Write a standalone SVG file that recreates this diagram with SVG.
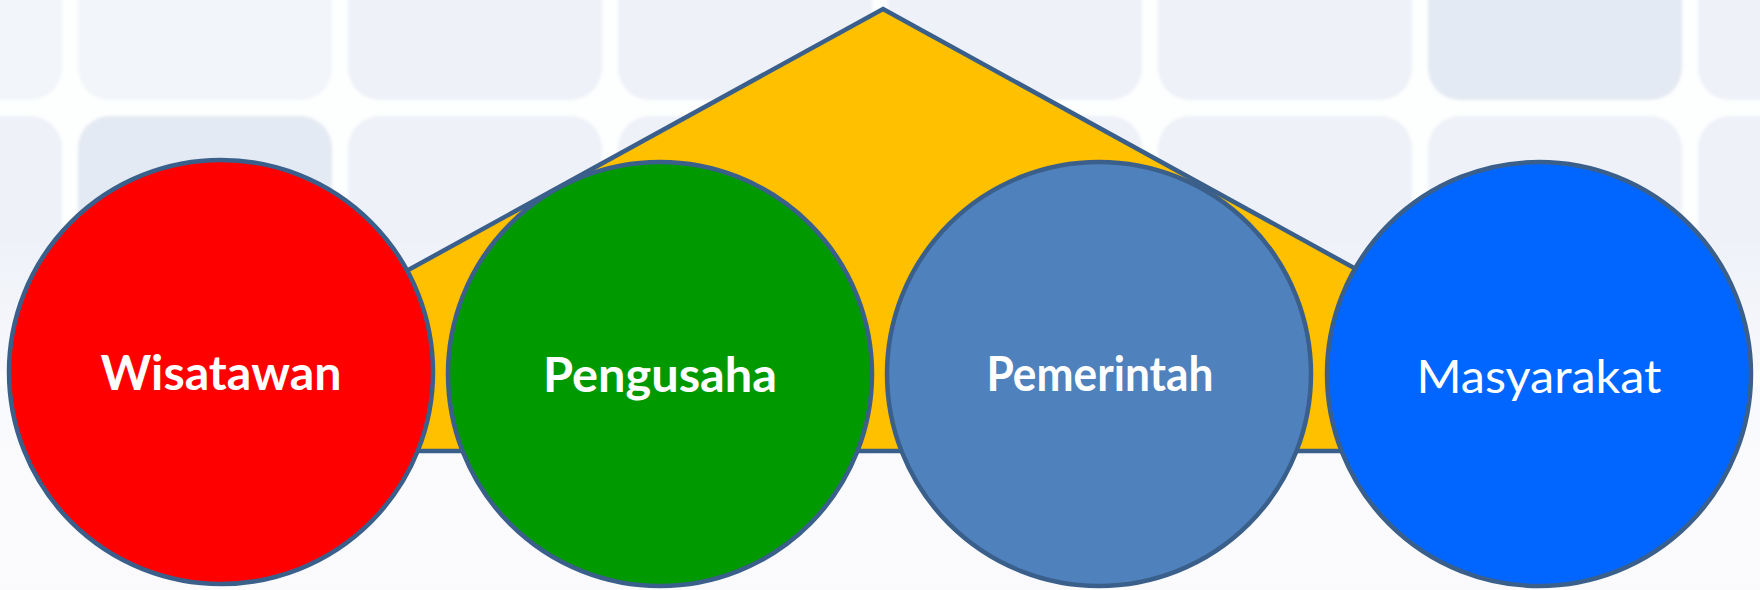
<svg xmlns="http://www.w3.org/2000/svg" width="1760" height="590" viewBox="0 0 1760 590">
  <defs>
    <style>
      .cell { fill: #EEF1F8; }
      .cell2 { fill: #E4EAF3; }
      .cell3 { fill: #F2F5F9; }
      .shape { stroke: #3A5F8B; stroke-width: 4.5; }
      .lbl { font-family: "Lato", "Open Sans", "Liberation Sans", sans-serif; font-size: 47px; fill: #FFFFFF; text-anchor: middle; }
      .bold { font-weight: bold; }
    </style>
    <filter id="soft" x="-5%" y="-5%" width="110%" height="110%">
      <feGaussianBlur stdDeviation="1.5"/>
    </filter>
    <linearGradient id="fade" x1="0" y1="0" x2="0" y2="1">
      <stop offset="0" stop-color="#FFFFFF" stop-opacity="0"/>
      <stop offset="0.4" stop-color="#FFFFFF" stop-opacity="0"/>
      <stop offset="0.68" stop-color="#FCFCFE" stop-opacity="0.75"/>
      <stop offset="0.85" stop-color="#FBFBFD" stop-opacity="1"/>
      <stop offset="1" stop-color="#FAFAFC" stop-opacity="1"/>
    </linearGradient>
  </defs>

  <g id="background">
    <rect x="0" y="0" width="1760" height="590" fill="#FDFEFE"/>
    <g filter="url(#soft)">
      <rect class="cell3" x="-192" y="-154" width="254" height="254" rx="32"/>
      <rect class="cell3" x="78" y="-154" width="254" height="254" rx="32"/>
      <rect class="cell" x="348" y="-154" width="254" height="254" rx="32"/>
      <rect class="cell" x="618" y="-154" width="254" height="254" rx="32"/>
      <rect class="cell" x="888" y="-154" width="254" height="254" rx="32"/>
      <rect class="cell" x="1158" y="-154" width="254" height="254" rx="32"/>
      <rect class="cell2" x="1428" y="-154" width="254" height="254" rx="32"/>
      <rect class="cell" x="1698" y="-154" width="254" height="254" rx="32"/>
      <rect class="cell" x="-192" y="116" width="254" height="254" rx="32"/>
      <rect class="cell2" x="78" y="116" width="254" height="254" rx="32"/>
      <rect class="cell" x="348" y="116" width="254" height="254" rx="32"/>
      <rect class="cell" x="618" y="116" width="254" height="254" rx="32"/>
      <rect class="cell" x="888" y="116" width="254" height="254" rx="32"/>
      <rect class="cell" x="1158" y="116" width="254" height="254" rx="32"/>
      <rect class="cell" x="1428" y="116" width="254" height="254" rx="32"/>
      <rect class="cell" x="1698" y="116" width="254" height="254" rx="32"/>
      <rect class="cell" x="-192" y="386" width="254" height="254" rx="32"/>
      <rect class="cell" x="78" y="386" width="254" height="254" rx="32"/>
      <rect class="cell" x="348" y="386" width="254" height="254" rx="32"/>
      <rect class="cell" x="618" y="386" width="254" height="254" rx="32"/>
      <rect class="cell" x="888" y="386" width="254" height="254" rx="32"/>
      <rect class="cell" x="1158" y="386" width="254" height="254" rx="32"/>
      <rect class="cell" x="1428" y="386" width="254" height="254" rx="32"/>
      <rect class="cell" x="1698" y="386" width="254" height="254" rx="32"/>
    </g>
    <rect x="0" y="0" width="1760" height="590" fill="url(#fade)"/>
  </g>

  <g id="pentagon">
    <polygon class="shape" points="883,9 1687,451 79,451" fill="#FFC000" stroke-linejoin="miter"/>
  </g>

  <g id="connectors"></g>

  <g id="node-wisatawan">
    <circle class="shape" cx="221" cy="372" r="212" fill="#FF0000"/>
    <text class="lbl bold" x="221" y="390" textLength="241" lengthAdjust="spacingAndGlyphs">Wisatawan</text>
  </g>

  <g id="node-pengusaha">
    <circle class="shape" cx="660" cy="374" r="212" fill="#009900"/>
    <text class="lbl bold" x="660" y="392" textLength="234" lengthAdjust="spacingAndGlyphs">Pengusaha</text>
  </g>

  <g id="node-pemerintah">
    <circle class="shape" cx="1099" cy="374" r="212" fill="#4F81BD"/>
    <text class="lbl bold" x="1100" y="391" textLength="227" lengthAdjust="spacingAndGlyphs">Pemerintah</text>
  </g>

  <g id="node-masyarakat">
    <circle class="shape" cx="1539" cy="374" r="212" fill="#0066FF"/>
    <text class="lbl" x="1539" y="393" textLength="245" lengthAdjust="spacingAndGlyphs">Masyarakat</text>
  </g>
</svg>
